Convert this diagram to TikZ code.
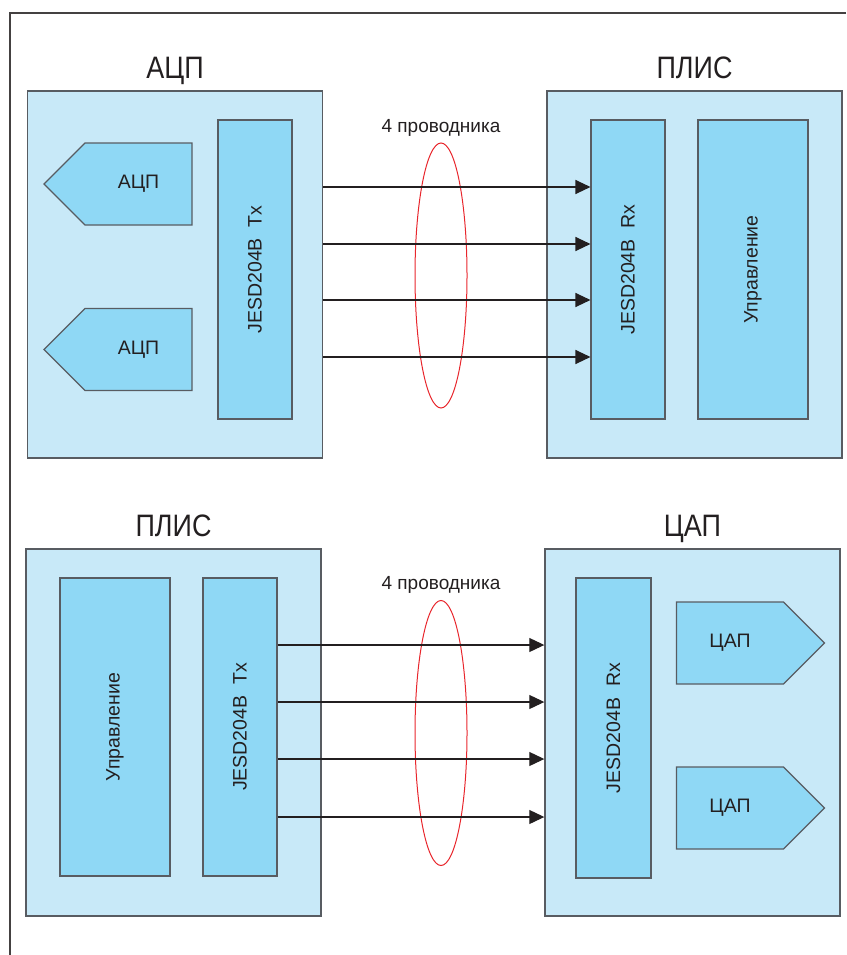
\documentclass[tikz,border=0pt]{standalone}
\usepackage{fontspec}
\setmainfont{Liberation Sans}
\newfontfamily\headfont[FakeStretch=0.87]{Liberation Sans}
\usetikzlibrary{positioning,arrows.meta,shapes.symbols,shapes.geometric}

\definecolor{panel}{RGB}{200,233,248}
\definecolor{block}{RGB}{143,216,245}
\definecolor{edge}{RGB}{88,92,98}
\definecolor{ink}{RGB}{35,31,32}
\definecolor{loop}{RGB}{232,38,44}

\tikzset{
  chip/.style={rectangle,draw=edge,line width=1.4pt,fill=panel,inner sep=0pt,
    minimum width=295pt,minimum height=367pt},
  unit/.style={rectangle,draw=edge,line width=1.1pt,fill=block,inner sep=0pt,
    text=ink,font=\fontsize{19.5}{21}\selectfont},
  conv/.style={signal,signal pointer angle=90,draw=edge,line width=1.1pt,fill=block,
    inner sep=0pt,minimum width=148pt,minimum height=82pt,
    text=ink,font=\fontsize{19.5}{21}\selectfont},
  title/.style={inner sep=0pt,text depth=0pt,text=ink,font=\headfont\fontsize{31}{33}\selectfont},
  lanes/.style={inner sep=0pt,text depth=0pt,text=ink,font=\fontsize{19}{21}\selectfont},
  bundle/.style={ellipse,draw=loop,line width=1pt,inner sep=0pt,
    minimum width=52pt,minimum height=265pt},
  wire/.style={draw=ink,line width=1.1pt,-{Triangle[length=15pt,width=14pt]}},
  rule/.style={draw=ink!85,line width=1.3pt}
}

\begin{document}
\begin{tikzpicture}[x=1pt,y=-1pt]
\useasboundingbox (0,0) rectangle (846,955);
\draw[rule] (846,13) -- (10,13) -- (10,955);

% ADC -> FPGA
\node[chip] (adc) at (175,274.5) {};
\node[title,above=12pt of adc] (adct) {АЦП};
\node[unit,minimum width=74pt,minimum height=299pt] (txa) at (255,269.5) {\rotatebox{90}{JESD204B\ \ Tx}};
\node[conv,signal to=west] (adc1) at (138.5,184) {АЦП};
\node[conv,signal to=west] (adc2) at (138.5,349.5) {АЦП};

\node[chip] (fpga) at (694.5,274.5) {};
\node[title,above=12pt of fpga] (fpgat) {ПЛИС};
\node[unit,minimum width=74pt,minimum height=299pt] (rxa) at (628,269.5) {\rotatebox{90}{JESD204B\ \ Rx}};
\node[unit,minimum width=110pt,minimum height=299pt] (ctla) at (753,269.5) {\rotatebox{90}{Управление}};

\node[bundle] (busa) at (441,275.5) {};
\node[lanes,above=10pt of busa] (busat) {4 проводника};
\foreach \y in {187,244,300,357}
  \draw[wire] (adc.east |- 0,\y) -- (rxa.west |- 0,\y);

% FPGA -> DAC
\node[chip] (fpgb) at (173.5,732.5) {};
\node[title,above=12pt of fpgb] (fpgbt) {ПЛИС};
\node[unit,minimum width=110pt,minimum height=298pt] (ctlb) at (115,727) {\rotatebox{90}{Управление}};
\node[unit,minimum width=74pt,minimum height=298pt] (txb) at (240,727) {\rotatebox{90}{JESD204B\ \ Tx}};

\node[chip] (dac) at (692.5,732.5) {};
\node[title,above=12pt of dac] (dact) {ЦАП};
\node[unit,minimum width=75pt,minimum height=300pt] (rxb) at (613.5,728) {\rotatebox{90}{JESD204B\ \ Rx}};
\node[conv,signal to=east] (dac1) at (730,643) {ЦАП};
\node[conv,signal to=east] (dac2) at (730,808) {ЦАП};

\node[bundle] (busb) at (441,733) {};
\node[lanes,above=10pt of busb] (busbt) {4 проводника};
\foreach \y in {645,702,759,817}
  \draw[wire] (txb.east |- 0,\y) -- (dac.west |- 0,\y);
\end{tikzpicture}
\end{document}
